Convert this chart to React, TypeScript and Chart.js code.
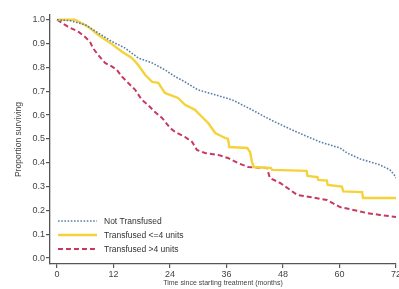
import React, { useEffect, useRef } from "react";
import { Chart, registerables } from "chart.js";

Chart.register(...registerables);

// Not Transfused
const notTransfusedMonths = [0, 2.8, 6.0, 8.7, 11.7, 14.4, 17.2, 20.2, 22.9, 25.1, 27.2, 29.9, 33.6, 37.2, 41.4, 44.2, 46.3, 49.9, 52.3, 55.9, 60.1, 61.6, 64.4, 68.6, 70.7, 71.6, 72];
const notTransfusedSurvival = [1.0, 0.996, 0.979, 0.945, 0.908, 0.882, 0.84, 0.819, 0.79, 0.761, 0.739, 0.706, 0.685, 0.664, 0.622, 0.592, 0.571, 0.538, 0.517, 0.487, 0.462, 0.441, 0.416, 0.391, 0.37, 0.35, 0.336];

// Transfused <=4 units
const lowTransfusedMonths = [0, 3.8, 6.6, 8.7, 11.3, 13.8, 15.9, 17.2, 18.7, 20.2, 21.5, 22.9, 25.7, 27.2, 29.3, 30.8, 32.1, 33.6, 35.7, 36.3, 36.6, 40.4, 41.0, 41.4, 41.8, 45.4, 45.7, 53.0, 53.2, 55.3, 55.5, 57.3, 57.5, 60.5, 60.8, 64.8, 65.0, 72];
const lowTransfusedSurvival = [1.0, 1.0, 0.971, 0.937, 0.903, 0.866, 0.84, 0.811, 0.769, 0.739, 0.735, 0.693, 0.672, 0.643, 0.622, 0.592, 0.567, 0.525, 0.504, 0.5, 0.466, 0.462, 0.445, 0.403, 0.382, 0.378, 0.37, 0.366, 0.345, 0.34, 0.328, 0.325, 0.307, 0.3, 0.28, 0.277, 0.252, 0.252];

// Transfused >4 units
const highTransfusedMonths = [0, 2.3, 4.5, 5.9, 7.0, 7.6, 8.7, 10.2, 11.7, 12.7, 13.8, 15.1, 16.6, 18.0, 19.3, 20.8, 22.3, 24.0, 25.1, 27.2, 28.7, 29.7, 31.4, 34.2, 36.3, 38.4, 40.6, 44.6, 45.2, 47.4, 49.5, 51.0, 53.7, 57.3, 60.1, 62.9, 65.8, 68.6, 72];
const highTransfusedSurvival = [1.0, 0.971, 0.95, 0.929, 0.908, 0.882, 0.853, 0.819, 0.803, 0.79, 0.761, 0.735, 0.706, 0.664, 0.643, 0.613, 0.588, 0.546, 0.529, 0.508, 0.487, 0.454, 0.441, 0.433, 0.42, 0.399, 0.382, 0.378, 0.336, 0.315, 0.286, 0.265, 0.256, 0.244, 0.214, 0.202, 0.189, 0.181, 0.172];

const seriesLabels = ["Not Transfused", "Transfused <=4 units", "Transfused >4 units"];
const xTicks = [0, 12, 24, 36, 48, 60, 72];
const yTicks = [0, 0.1, 0.2, 0.3, 0.4, 0.5, 0.6, 0.7, 0.8, 0.9, 1.0];

const toPoints = (xs: number[], ys: number[]) => xs.map((x, i) => ({ x, y: ys[i] }));

const legendPlugin = {
  id: "insideLegend",
  afterDatasetsDraw(chart: any) {
    const ctx = chart.ctx;
    const rows = [221, 235, 249];
    chart.data.datasets.forEach((ds: any, i: number) => {
      const y = rows[i];
      ctx.save();
      ctx.strokeStyle = ds.borderColor;
      ctx.lineWidth = ds.borderWidth;
      ctx.setLineDash(ds.borderDash || []);
      ctx.beginPath();
      ctx.moveTo(58, y);
      ctx.lineTo(97, y);
      ctx.stroke();
      ctx.setLineDash([]);
      ctx.fillStyle = "#333";
      ctx.font = "8.5px 'Liberation Sans', Arial, sans-serif";
      ctx.textBaseline = "middle";
      ctx.textAlign = "left";
      ctx.fillText(ds.label, 104, y + 0.5);
      ctx.restore();
    });
  },
};

export default function App() {
  const canvasRef = useRef<HTMLCanvasElement | null>(null);

  useEffect(() => {
    if (!canvasRef.current) return;
    const axisColor = "#555";
    const chart = new Chart(canvasRef.current, {
      type: "line",
      data: {
        datasets: [
          {
            label: seriesLabels[0],
            data: toPoints(notTransfusedMonths, notTransfusedSurvival),
            borderColor: "#5a7ea8",
            borderWidth: 1.6,
            borderDash: [1.6, 1.6],
            pointRadius: 0,
            tension: 0,
          },
          {
            label: seriesLabels[1],
            data: toPoints(lowTransfusedMonths, lowTransfusedSurvival),
            borderColor: "#f6d23a",
            borderWidth: 2.4,
            pointRadius: 0,
            tension: 0,
          },
          {
            label: seriesLabels[2],
            data: toPoints(highTransfusedMonths, highTransfusedSurvival),
            borderColor: "#c8385f",
            borderWidth: 2,
            borderDash: [5, 3],
            pointRadius: 0,
            tension: 0,
          },
        ],
      },
      options: {
        responsive: false,
        animation: false,
        layout: { padding: { top: 15, right: 24, bottom: 0, left: 0 } },
        plugins: { legend: { display: false }, tooltip: { enabled: false } },
        scales: {
          x: {
            type: "linear",
            min: -1.5,
            max: 72,
            afterBuildTicks: (scale: any) => {
              scale.ticks = xTicks.map((v) => ({ value: v }));
            },
            afterFit: (scale: any) => {
              scale.height = 25;
            },
            grid: { drawOnChartArea: false, drawTicks: true, tickLength: 4, color: axisColor, lineWidth: 1.2 },
            border: { display: true, color: axisColor, width: 1.3 },
            ticks: {
              padding: 1,
              color: "#444",
              font: { family: "'Liberation Sans', Arial, sans-serif", size: 9 },
              maxRotation: 0,
              callback: (v: any) => String(v),
            },
            title: {
              display: true,
              text: "Time since starting treatment (months)",
              color: "#444",
              font: { family: "'Liberation Sans', Arial, sans-serif", size: 7 },
              padding: { top: 0, bottom: 2 },
            },
          },
          y: {
            type: "linear",
            min: -0.025,
            max: 1.02,
            afterBuildTicks: (scale: any) => {
              scale.ticks = yTicks.map((v) => ({ value: v }));
            },
            afterFit: (scale: any) => {
              scale.width = 50;
            },
            grid: { drawOnChartArea: false, drawTicks: true, tickLength: 4, color: axisColor, lineWidth: 1.2 },
            border: { display: true, color: axisColor, width: 1.3 },
            ticks: {
              padding: 1,
              color: "#444",
              font: { family: "'Liberation Sans', Arial, sans-serif", size: 9 },
              callback: (v: any) => Number(v).toFixed(1),
            },
            title: {
              display: true,
              text: "Proportion surviving",
              color: "#444",
              font: { family: "'Liberation Sans', Arial, sans-serif", size: 8.5 },
              padding: { top: 14, bottom: 0 },
            },
          },
        },
      },
      plugins: [legendPlugin],
    });
    return () => chart.destroy();
  }, []);

  return (
    <div
      style={{
        position: "fixed",
        left: 0,
        top: 0,
        width: 399,
        height: 289,
        overflow: "hidden",
        background: "#fff",
      }}
    >
      <canvas ref={canvasRef} width={420} height={289} style={{ width: 420, height: 289, display: "block" }} />
    </div>
  );
}
